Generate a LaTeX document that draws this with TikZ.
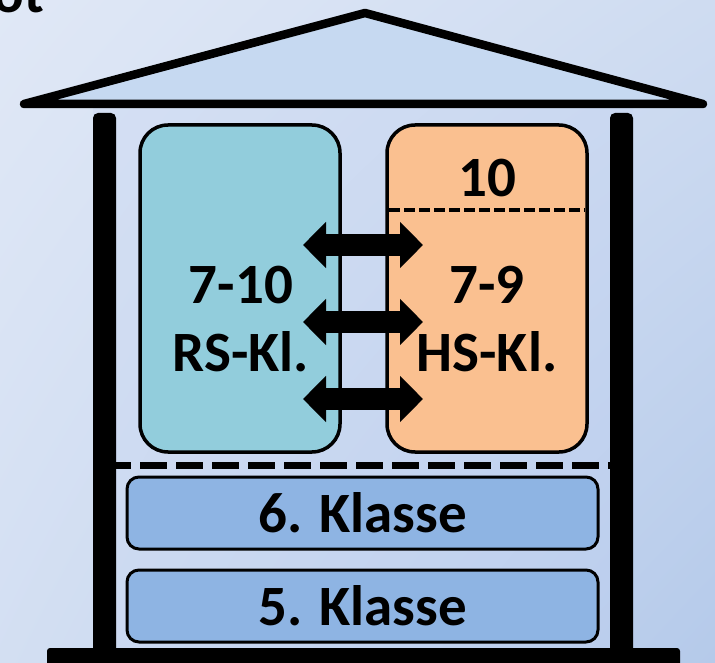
\documentclass[tikz,border=0pt]{standalone}
\usepackage{fontspec}
\setmainfont{Carlito}
\usetikzlibrary{arrows.meta,shadings}
\definecolor{rsblue}{HTML}{92CDDC}
\definecolor{hsorange}{HTML}{FAC090}
\definecolor{klblue}{HTML}{8EB4E3}
\definecolor{roofblue}{HTML}{C6D9F1}
\definecolor{bgtl}{HTML}{E0E8F6}
\definecolor{bgbr}{HTML}{B5CAEA}
\definecolor{intl}{HTML}{D4DFF3}
\definecolor{inbr}{HTML}{BACDED}

\begin{document}
\begin{tikzpicture}[x=1pt,y=-1pt]
\tikzstyle{every node}+=[inner sep=0pt,font=\fontsize{57}{68}\selectfont\bfseries]
\tikzstyle{colbox}=[draw=black,line width=3.5pt,rounded corners=28pt,minimum width=200pt,minimum height=327pt]
\tikzstyle{klbox}=[draw=black,line width=3pt,rounded corners=12pt,fill=klblue,minimum width=471pt,minimum height=72pt]
\tikzstyle{swaparrow}=[line width=22pt,{Triangle[length=23pt,width=45pt]}-{Triangle[length=23pt,width=45pt]}]
\useasboundingbox (0,0) rectangle (715,663);
\clip (0,0) rectangle (715,663);
\shade [upper left=bgtl,upper right=bgtl!60!bgbr,lower left=bgtl!70!bgbr,lower right=bgbr] (0,0) rectangle (715,663);
\node [anchor=base east] (title) at (44,13) {ot};
% house
\shade [upper left=intl,upper right=intl!60!inbr,lower left=intl!70!inbr,lower right=inbr] (93,108) rectangle (633,648);
\draw [black,line width=8.5pt,line join=round,fill=roofblue] (24,104) -- (365,13) -- (703,104) -- cycle;
\fill [black,rounded corners=5pt] (93,113) rectangle (116,655);
\fill [black,rounded corners=5pt] (610,113) rectangle (633,655);
\fill [black,rounded corners=3pt] (47,648) rectangle (680,675);
% upper classes
\node [colbox,fill=rsblue] (rs) at (240,288.5) {};
\node [colbox,fill=hsorange] (hs) at (487,288.5) {};
\coordinate (hsl) at (389,210);
\coordinate (hsr) at (585,210);
\draw [black,line width=4.5pt,dash pattern=on 10.5pt off 4.5pt] (hsl) -- (hsr);
\node [anchor=base] (hsten) at (487,197) {10};
\node [anchor=base] (rsnum) at (241,303) {7-10};
\node [anchor=base] (rslab) at (241,371) {RS-Kl.};
\node [anchor=base] (hsnum) at (487,303) {7-9};
\node [anchor=base] (hslab) at (487,371) {HS-Kl.};
\coordinate (l1) at (303,245);
\coordinate (r1) at (423,245);
\coordinate (l2) at (303,322);
\coordinate (r2) at (423,322);
\coordinate (l3) at (303,399);
\coordinate (r3) at (423,399);
\draw [swaparrow] (l1) -- (r1);
\draw [swaparrow] (l2) -- (r2);
\draw [swaparrow] (l3) -- (r3);
% lower classes
\coordinate (divl) at (116,465);
\coordinate (divr) at (610,465);
\draw [black,line width=7pt,dash pattern=on 27pt off 9pt,dash phase=12pt] (divl) -- (divr);
\node [klbox] (k6) at (362.5,513) {6. Klasse};
\node [klbox] (k5) at (362.5,606) {5. Klasse};
\end{tikzpicture}
\end{document}
